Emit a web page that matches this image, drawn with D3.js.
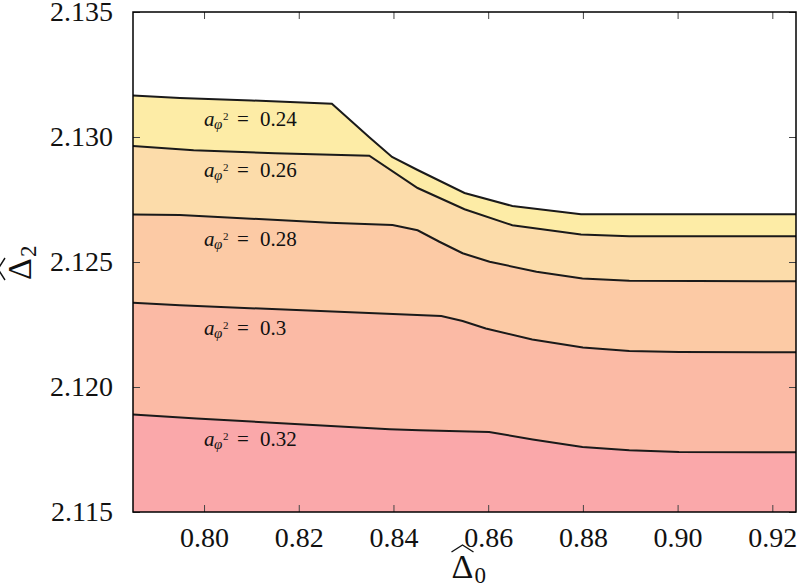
<!DOCTYPE html>
<html>
<head>
<meta charset="utf-8">
<script src="https://cdn.jsdelivr.net/npm/d3@7"></script>
</head>
<body style="margin:0">
<svg id="chart" width="800" height="588" font-family="Liberation Serif"></svg>
<script>
// one boundary curve per coupling value, [Delta0, Delta2] pairs
const couplings = ["0.24", "0.26", "0.28", "0.3", "0.32"];

const curve024 = [[0.785, 2.13166], [0.7949, 2.13156], [0.8100, 2.13146], [0.8270, 2.13133],
  [0.8349, 2.12999], [0.8397, 2.12920], [0.8451, 2.12868], [0.8550, 2.12776],
  [0.8651, 2.12724], [0.8796, 2.12691], [0.925, 2.12691]];
const curve026 = [[0.785, 2.12964], [0.7978, 2.12947], [0.8150, 2.12935], [0.8349, 2.12925],
  [0.8451, 2.12796], [0.8550, 2.12711], [0.8651, 2.12647], [0.8796, 2.12610],
  [0.8898, 2.12603], [0.925, 2.12603]];
const curve028 = [[0.785, 2.12690], [0.7949, 2.12688], [0.8265, 2.12657], [0.8398, 2.12648],
  [0.8451, 2.12627], [0.8497, 2.12581], [0.8546, 2.12535], [0.8603, 2.12501],
  [0.8702, 2.12461], [0.8799, 2.12434], [0.8898, 2.12425], [0.925, 2.12423]];
const curve030 = [[0.785, 2.12337], [0.7949, 2.12327], [0.8501, 2.12284], [0.8546, 2.12264],
  [0.8595, 2.12234], [0.8693, 2.12190], [0.8800, 2.12158], [0.8898, 2.12144],
  [0.9003, 2.12140], [0.925, 2.12139]];
const curve032 = [[0.785, 2.11890], [0.7984, 2.11874], [0.8392, 2.11831], [0.8455, 2.11827],
  [0.8602, 2.11820], [0.8694, 2.11790], [0.8799, 2.11760], [0.8898, 2.11747],
  [0.9003, 2.11740], [0.925, 2.11739]];

const curves = [curve024, curve026, curve028, curve030, curve032];
const bandColors = ["#fdeca6", "#fcdcaa", "#fccaa5", "#fbbaa5", "#faa8aa"];

const labelX = 0.80;
const labelY = [2.13044, 2.12840, 2.12563, 2.12207, 2.11764];

const xTicks = [0.80, 0.82, 0.84, 0.86, 0.88, 0.90, 0.92];
const yTicks = [2.115, 2.120, 2.125, 2.130, 2.135];

const serif = "Liberation Serif";

const svg = d3.select("#chart");
const margin = {top: 12, right: 4, bottom: 76, left: 133};
const width = +svg.attr("width") - margin.left - margin.right;
const height = +svg.attr("height") - margin.top - margin.bottom;
const g = svg.append("g").attr("transform", `translate(${margin.left},${margin.top})`);

const x = d3.scaleLinear().domain([0.785, 0.925]).range([0, width]);
const y = d3.scaleLinear().domain([2.115, 2.135]).range([height, 0]);

// filled bands: each curve filled down to the bottom, drawn top to bottom
const area = d3.area()
  .x(d => x(d[0]))
  .y0(y(2.115))
  .y1(d => y(d[1]));

g.selectAll(".band")
  .data(curves)
  .join("path")
  .attr("class", "band")
  .attr("d", area)
  .attr("fill", (d, i) => bandColors[i]);

const line = d3.line().x(d => x(d[0])).y(d => y(d[1]));

g.selectAll(".curve")
  .data(curves)
  .join("path")
  .attr("class", "curve")
  .attr("d", line)
  .attr("fill", "none")
  .attr("stroke", "#1a1a1a")
  .attr("stroke-width", 2);

// curve labels  a_{phi^2} = value
const labels = g.selectAll(".clabel")
  .data(couplings)
  .join("text")
  .attr("class", "clabel")
  .attr("font-family", serif)
  .attr("font-size", 21)
  .attr("fill", "#111")
  .attr("y", (d, i) => y(labelY[i]));

const lx = x(labelX);
labels.append("tspan").attr("x", lx).attr("font-style", "italic").text("a");
labels.append("tspan").attr("x", lx + 10).attr("dy", 3).attr("font-size", 15)
  .attr("font-style", "italic").text("φ");
labels.append("tspan").attr("x", lx + 19).attr("dy", -9).attr("font-size", 11).text("2");
labels.append("tspan").attr("x", lx + 33).attr("dy", 6).text("=");
labels.append("tspan").attr("x", lx + 56).text(d => d);

// axes with inward ticks on all four sides
const xAxis = d3.axisBottom(x).tickValues(xTicks).tickFormat(d3.format(".2f"))
  .tickSizeInner(-7).tickSizeOuter(0).tickPadding(15);
const yAxis = d3.axisLeft(y).tickValues(yTicks).tickFormat(d3.format(".3f"))
  .tickSizeInner(-7).tickSizeOuter(0).tickPadding(20);

const gx = g.append("g").attr("transform", `translate(0,${height})`).call(xAxis);
const gy = g.append("g").call(yAxis);
const gt = g.append("g")
  .call(d3.axisTop(x).tickValues(xTicks).tickFormat("").tickSizeInner(-7).tickSizeOuter(0));
const gr = g.append("g").attr("transform", `translate(${width},0)`)
  .call(d3.axisRight(y).tickValues(yTicks).tickFormat("").tickSizeInner(-7).tickSizeOuter(0));

[gx, gy, gt, gr].forEach(a => {
  a.attr("font-family", serif).attr("font-size", 28);
  a.select(".domain").remove();
  a.selectAll(".tick line").attr("stroke", "#444").attr("stroke-width", 1);
  a.selectAll("text").attr("font-family", serif).attr("font-size", 28).attr("fill", "#111");
});

g.append("rect")
  .attr("width", width)
  .attr("height", height)
  .attr("fill", "none")
  .attr("stroke", "#000")
  .attr("stroke-width", 1.5);

// axis titles: hat-Delta_0 and hat-Delta_2
function hatDelta(sel, sub) {
  sel.append("text")
    .attr("text-anchor", "middle")
    .attr("font-family", serif)
    .attr("font-size", 34)
    .attr("fill", "#111")
    .text("Δ");
  sel.append("text")
    .attr("x", 12)
    .attr("y", 5)
    .attr("font-family", serif)
    .attr("font-size", 23)
    .attr("fill", "#111")
    .text(sub);
  sel.append("path")
    .attr("d", "M-11,-26 L0,-33 L11,-26")
    .attr("fill", "none")
    .attr("stroke", "#111")
    .attr("stroke-width", 1.4);
}

const xTitle = svg.append("g")
  .attr("transform", `translate(${margin.left + width / 2 - 2},578)`);
hatDelta(xTitle, "0");

const yTitle = svg.append("g")
  .attr("transform", "translate(31,269) rotate(-90)");
hatDelta(yTitle, "2");
</script>
</body>
</html>
